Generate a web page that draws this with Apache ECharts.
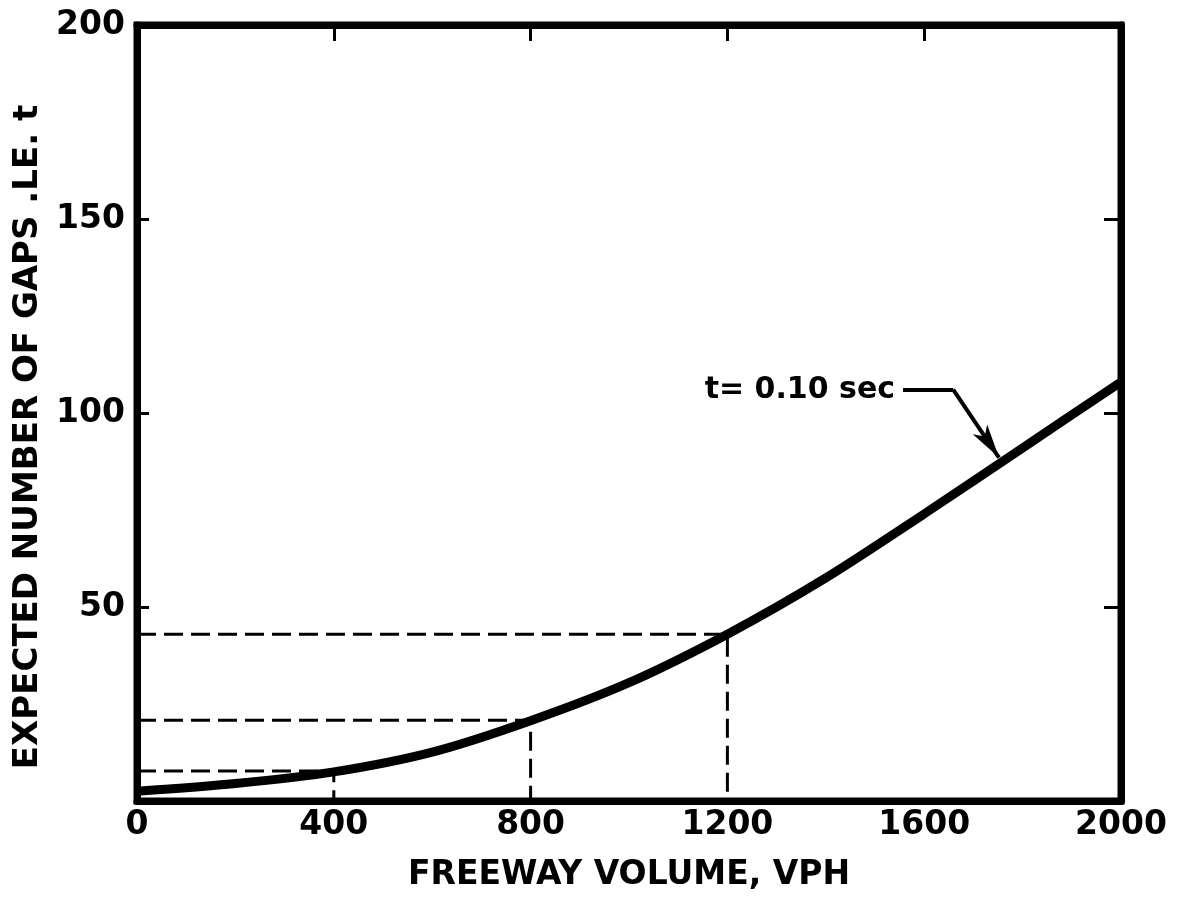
<!DOCTYPE html>
<html>
<head>
<meta charset="utf-8">
<script src="https://cdn.jsdelivr.net/npm/echarts@6/dist/echarts.min.js"></script>
<style>
  html, body { margin: 0; padding: 0; background: #fff; }
  #chart { width: 1189px; height: 907px; }
</style>
</head>
<body>
<div id="chart"></div>
<script>
// curve (freeway volume vs expected gaps)
const volume = [0, 200, 400, 600, 800, 1000, 1200, 1400, 1600, 1800, 2000];
const gaps = [2.5, 4.5, 7.5, 12.6, 20.7, 30.5, 43, 57.5, 74, 91, 108];

// dashed read-off lines
const refVolume = [400, 800, 1200];
const refGaps = [7.7, 20.8, 43];

// leader for the curve label: start, bend, arrow tip
const leaderVolume = [1557, 1659, 1752];
const leaderGaps = [106, 106, 88.5];
const curveLabel = "t= 0.10 sec";

const FONT = "DejaVu Sans";
const frame = { show: true, onZero: false, lineStyle: { color: "#000", width: 7 } };

let chart = echarts.init(document.getElementById("chart"));

let refSeries = refVolume.map(function(v, i) {
  return {
    type: "line",
    data: [[0, refGaps[i]], [v, refGaps[i]], [v, 0]],
    symbol: "none",
    silent: true,
    z: 1,
    lineStyle: { color: "#000", width: 3, type: [19, 8] }
  };
});

let option = {
  animation: false,
  backgroundColor: "#fff",
  grid: {
    left: 137,
    right: 68,
    top: 25,
    bottom: 106,
    show: true,
    borderColor: "#000",
    borderWidth: 7
  },
  xAxis: [
    {
      type: "value",
      min: 0,
      max: 2000,
      interval: 400,
      name: "FREEWAY VOLUME, VPH",
      nameLocation: "middle",
      nameGap: 58,
      nameTextStyle: { fontFamily: FONT, fontWeight: "bold", fontSize: 33, color: "#000" },
      axisLine: frame,
      axisTick: { show: false },
      splitLine: { show: false },
      axisLabel: {
        margin: 8,
        fontFamily: FONT,
        fontWeight: "bold",
        fontSize: 33,
        color: "#000",
        formatter: function(v) { return String(v); }
      }
    },
    {
      type: "value",
      position: "top",
      min: 0,
      max: 2000,
      interval: 400,
      axisLine: frame,
      axisTick: { show: true, inside: true, length: 16, lineStyle: { width: 3, color: "#000" } },
      axisLabel: { show: false },
      splitLine: { show: false }
    }
  ],
  yAxis: [
    {
      type: "value",
      min: 0,
      max: 200,
      interval: 50,
      name: "EXPECTED NUMBER OF GAPS .LE. t",
      nameLocation: "middle",
      nameGap: 92,
      nameTextStyle: { fontFamily: FONT, fontWeight: "bold", fontSize: 34, color: "#000", padding: [0, 0, 0, -48] },
      axisLine: frame,
      axisTick: { show: true, inside: true, length: 12, lineStyle: { width: 3, color: "#000" } },
      splitLine: { show: false },
      axisLabel: {
        margin: 12,
        showMinLabel: false,
        fontFamily: FONT,
        fontWeight: "bold",
        fontSize: 33,
        color: "#000"
      }
    },
    {
      type: "value",
      position: "right",
      min: 0,
      max: 200,
      interval: 50,
      axisLine: frame,
      axisTick: { show: true, inside: true, length: 17, lineStyle: { width: 3, color: "#000" } },
      axisLabel: { show: false },
      splitLine: { show: false }
    }
  ],
  series: refSeries.concat([
    {
      type: "line",
      data: volume.map(function(v, i) { return [v, gaps[i]]; }),
      smooth: 0.3,
      symbol: "none",
      z: 3,
      lineStyle: { color: "#000", width: 9 },
      markLine: {
        silent: true,
        animation: false,
        symbol: ["none", "none"],
        lineStyle: { color: "#000", width: 4, type: "solid" },
        data: [
          [
            {
              coord: [leaderVolume[0], leaderGaps[0]],
              label: {
                show: true,
                position: "start",
                distance: 8,
                formatter: curveLabel,
                fontFamily: FONT,
                fontWeight: "bold",
                fontSize: 30,
                color: "#000"
              }
            },
            { coord: [leaderVolume[1], leaderGaps[1]] }
          ],
          [
            { coord: [leaderVolume[1], leaderGaps[1]], symbol: "none", label: { show: false } },
            { coord: [leaderVolume[2], leaderGaps[2]], symbol: "arrow", symbolSize: [13, 34] }
          ]
        ]
      }
    }
  ])
};

chart.setOption(option);
</script>
</body>
</html>
